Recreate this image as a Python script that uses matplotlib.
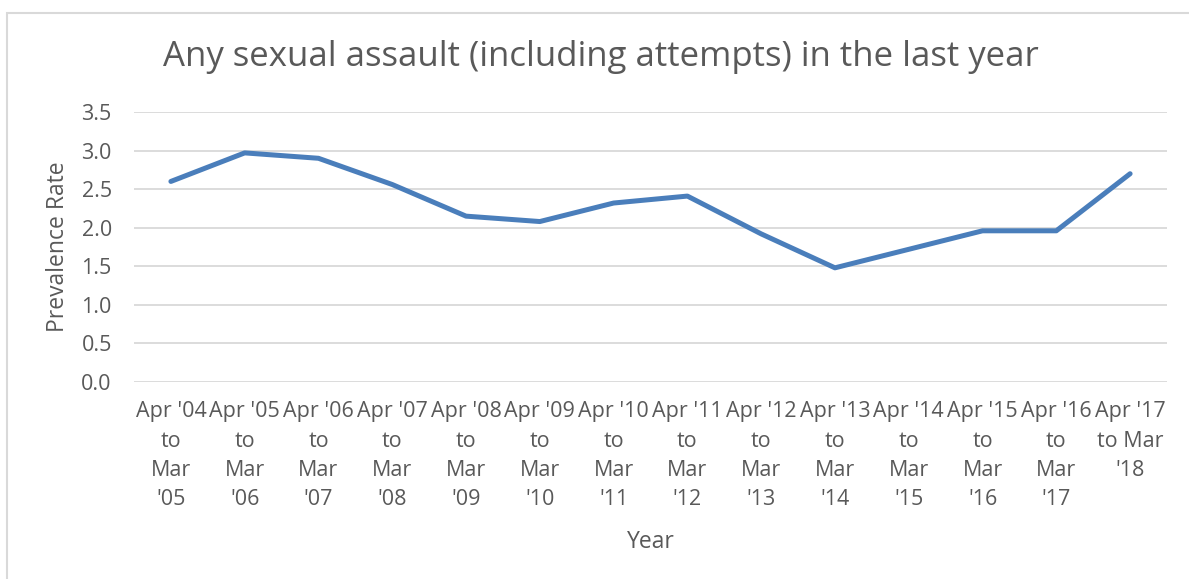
import matplotlib
matplotlib.use("Agg")
import matplotlib.pyplot as plt
from matplotlib.patches import Rectangle

categories = ["Apr '04\nto\nMar\n'05", "Apr '05\nto\nMar\n'06", "Apr '06\nto\nMar\n'07",
              "Apr '07\nto\nMar\n'08", "Apr '08\nto\nMar\n'09", "Apr '09\nto\nMar\n'10",
              "Apr '10\nto\nMar\n'11", "Apr '11\nto\nMar\n'12", "Apr '12\nto\nMar\n'13",
              "Apr '13\nto\nMar\n'14", "Apr '14\nto\nMar\n'15", "Apr '15\nto\nMar\n'16",
              "Apr '16\nto\nMar\n'17", "Apr '17\nto Mar\n'18"]
values = [2.60, 2.97, 2.90, 2.56, 2.15, 2.08, 2.32, 2.41, 1.92, 1.48, 1.72, 1.96, 1.96, 2.70]
yticks = [0.0, 0.5, 1.0, 1.5, 2.0, 2.5, 3.0, 3.5]

plt.rcParams['font.family'] = ['Open Sans', 'DejaVu Sans']
text_color = '#595959'

W, H = 1189, 579
fig = plt.figure(figsize=(W / 100, H / 100), dpi=100)
fig.patches.append(Rectangle((7 / W, -0.1), 1.1, 1 - 13 / H + 0.1,
                             transform=fig.transFigure, fill=False,
                             edgecolor='#d9d9d9', linewidth=1.5))

ax = fig.add_axes([134 / W, 1 - 382 / H, (1167 - 134) / W, (382 - 112) / H])
x = list(range(len(categories)))
ax.plot(x, values, color='#4a7ebb', linewidth=3.6, solid_capstyle='round',
        solid_joinstyle='round')
ax.set_xlim(-0.5, len(categories) - 0.5)
ax.set_ylim(0, 3.5)
ax.set_yticks(yticks)
ax.set_yticklabels([f"{v:.1f}" for v in yticks])
ax.set_xticks(x)
ax.set_xticklabels(categories, linespacing=1.52)
ax.grid(axis='y', color='#d9d9d9', linewidth=1.3)
ax.set_axisbelow(True)
for s in ax.spines.values():
    s.set_visible(False)
ax.tick_params(axis='both', length=0, colors=text_color, labelsize=15.5)
ax.tick_params(axis='x', pad=14)
ax.tick_params(axis='y', pad=16)
ax.set_ylabel("Prevalence Rate", fontsize=16.5, color=text_color, labelpad=8)
ax.set_xlabel("Year", fontsize=16.5, color=text_color, labelpad=14)
fig.text(601 / W, 1 - 57 / H, "Any sexual assault (including attempts) in the last year",
         ha='center', va='center', fontsize=25, color=text_color)

fig.savefig("out.png", dpi=100, facecolor='white')
